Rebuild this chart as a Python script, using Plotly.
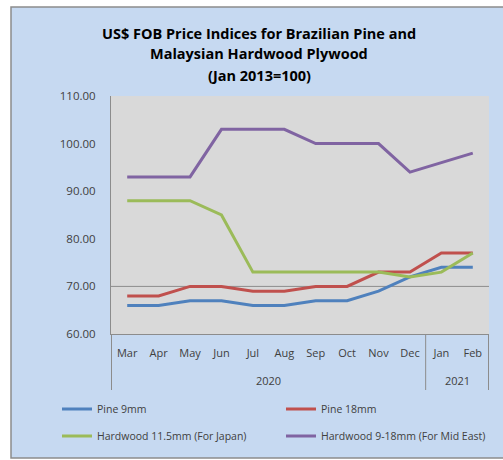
import plotly.graph_objects as go

months = ["Mar", "Apr", "May", "Jun", "Jul", "Aug", "Sep", "Oct", "Nov", "Dec", "Jan", "Feb"]
years = ["2020"] * 10 + ["2021"] * 2

pine_9mm = [66, 66, 67, 67, 66, 66, 67, 67, 69, 72, 74, 74]
pine_18mm = [68, 68, 70, 70, 69, 69, 70, 70, 73, 73, 77, 77]
hardwood_japan = [88, 88, 88, 85, 73, 73, 73, 73, 73, 72, 73, 77]
hardwood_mideast = [93, 93, 93, 103, 103, 103, 100, 100, 100, 94, 96, 98]

y_ticks = [60, 70, 80, 90, 100, 110]
y_ticklabels = ["60.00", "70.00", "80.00", "90.00", "100.00", "110.00"]

W, H = 503, 460
L, R, T, B = 111, 14, 96, 126
pw, ph = W - L - R, H - T - B

def px_x(p):
    return (p - L) / pw

def px_y(p):
    return (H - B - p) / ph

font_family = "Open Sans, Liberation Sans, sans-serif"
grey = "#8C8C8C"

# (name, values, colour, legend id, legend left px, legend row centre px)
series = [
    ("Pine 9mm", pine_9mm, "#4F81BD", "legend", 57, 409),
    ("Pine 18mm", pine_18mm, "#C0504D", "legend2", 281, 409),
    ("Hardwood 11.5mm (For Japan)", hardwood_japan, "#9BBB59", "legend3", 57, 436),
    ("Hardwood 9-18mm (For Mid East)", hardwood_mideast, "#8064A2", "legend4", 281, 436),
]

fig = go.Figure()
for name, vals, color, lg, _, _ in series:
    fig.add_trace(go.Scatter(
        x=months, y=vals, name=name, mode="lines",
        line=dict(color=color, width=3), legend=lg, showlegend=True,
    ))

shapes = [
    # outer chart area
    dict(type="rect", xref="paper", yref="paper",
         x0=px_x(11), x1=px_x(510), y0=px_y(458), y1=px_y(7),
         fillcolor="#C6D9F1", line=dict(color=grey, width=1.5), layer="below"),
    # plot area
    dict(type="rect", xref="paper", yref="paper", x0=0, x1=1, y0=0, y1=1,
         fillcolor="#D9D9D9", line=dict(width=0), layer="below"),
    # gridline at 70
    dict(type="line", xref="paper", yref="y", x0=0, x1=1, y0=70, y1=70,
         line=dict(color=grey, width=1), layer="below"),
]

# year groups: dividers at group boundaries, labels centred under each group
groups = []
start = 0
for i in range(1, len(years) + 1):
    if i == len(years) or years[i] != years[start]:
        groups.append((years[start], start, i - 1))
        start = i

annotations = []
boundaries = [-0.5] + [g[2] + 0.5 for g in groups]
for bnd in boundaries:
    shapes.append(dict(type="line", xref="x", yref="paper", x0=bnd, x1=bnd,
                       y0=0, y1=px_y(390), line=dict(color=grey, width=1)))
for label, a, b in groups:
    annotations.append(dict(text=label, x=(a + b) / 2, y=px_y(380), xref="x", yref="paper",
                            showarrow=False, xanchor="center", yanchor="middle",
                            font=dict(family=font_family, size=11, color="#404040")))

title_lines = [
    ("US$ FOB Price Indices for Brazilian Pine and", 33),
    ("Malaysian Hardwood Plywood", 54),
    ("(Jan 2013=100)", 75),
]
for t, yy in title_lines:
    annotations.append(dict(text=t, x=px_x(259), y=px_y(yy), xref="paper", yref="paper",
                            showarrow=False, xanchor="center", yanchor="middle",
                            font=dict(family=font_family, size=14.5, color="#000000",
                                      weight="bold")))

legends = {}
for name, _, _, lg, lx, ly in series:
    legends[lg] = dict(
        orientation="h", xref="container", yref="container",
        x=lx / W, y=(H - ly) / H, xanchor="left", yanchor="middle",
        bgcolor="rgba(0,0,0,0)", font=dict(size=10.5, color="#404040"),
    )

fig.update_layout(
    width=W, height=H,
    showlegend=True,
    margin=dict(l=L, r=R, t=T, b=B, autoexpand=False),
    paper_bgcolor="white",
    plot_bgcolor="rgba(0,0,0,0)",
    font=dict(family=font_family, size=11, color="#404040"),
    shapes=shapes,
    annotations=annotations,
    xaxis=dict(
        type="category",
        showgrid=False, showline=True, linecolor=grey, linewidth=1,
        tickfont=dict(size=11, color="#404040"),
        ticks="outside", ticklen=9, tickcolor="rgba(0,0,0,0)",
    ),
    yaxis=dict(
        range=[60, 110], tickvals=y_ticks, ticktext=y_ticklabels,
        showgrid=False, zeroline=False, showline=True, linecolor=grey, linewidth=1,
        ticks="outside", ticklen=12, tickcolor="rgba(0,0,0,0)",
        tickfont=dict(size=11.5, color="#404040"),
    ),
    **legends,
)

fig.write_html("out.html", config={"displayModeBar": False},
               post_script="document.body.style.margin='0';")
